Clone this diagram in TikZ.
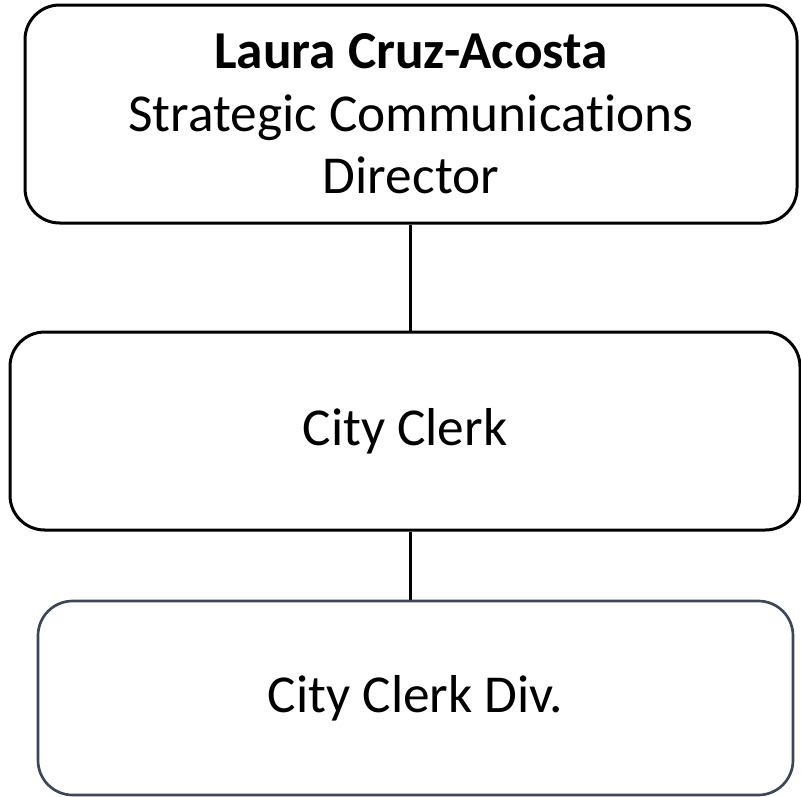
\documentclass[tikz,border=0pt]{standalone}
\usepackage{fontspec}
\setmainfont{Carlito}[Ligatures=NoCommon]
\definecolor{slate}{HTML}{3C4658}
\tikzset{
  orgbox/.style={draw=black, line width=2.25pt, rounded corners=26pt, align=center, inner sep=0pt,
    font=\fontsize{40}{47}\selectfont},
  link/.style={draw=black, line width=2.25pt}
}
\begin{document}
\begin{tikzpicture}[x=0.75pt,y=-0.75pt]
\useasboundingbox (0,0) rectangle (801,797);
\node[orgbox, minimum width=579pt, minimum height=163.5pt] (dir) at (411,114)
  {\textbf{Laura Cruz-Acosta}\\Strategic Communications\\Director};
\node[orgbox, minimum width=592.5pt, minimum height=148.5pt] (clerk) at (405,431) {City Clerk};
\node[orgbox, draw=slate, line width=2pt, minimum width=566.25pt, minimum height=145.5pt] (div) at (415.5,698) {City Clerk Div.};
\coordinate (a1) at (410,0);
\draw[link] (dir.south -| a1) -- (clerk.north -| a1);
\draw[link] (clerk.south -| a1) -- (div.north -| a1);
\end{tikzpicture}
\end{document}
